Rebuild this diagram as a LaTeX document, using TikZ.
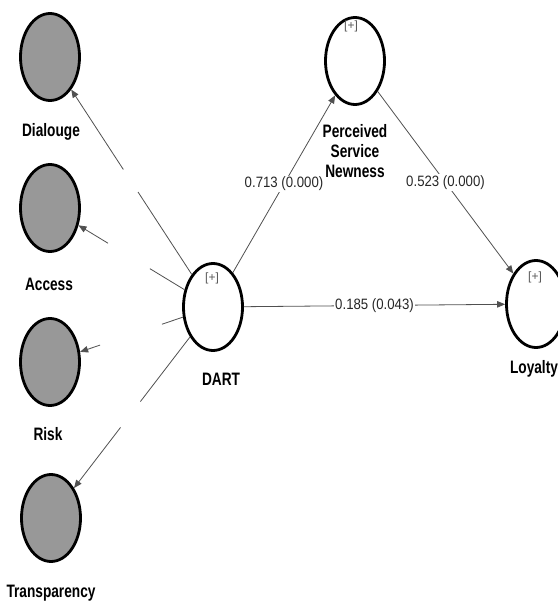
\documentclass[tikz,border=0pt]{standalone}
\usepackage{fontspec}
\setmainfont{Liberation Sans}
\newfontfamily\lblfont[FakeStretch=0.76]{Liberation Sans}
\newfontfamily\numfont[FakeStretch=0.88]{Liberation Sans}
\usetikzlibrary{shapes.geometric,arrows.meta,calc}
\definecolor{indgray}{RGB}{152,152,152}
\definecolor{congray}{RGB}{80,80,80}
\tikzset{
  lv/.style={ellipse, draw=black, fill=white, line width=2.8pt, minimum width=59pt, minimum height=87pt, inner sep=0pt},
  ind/.style={lv, fill=indgray},
  lbl/.style={font=\lblfont\bfseries\fontsize{18}{20}\selectfont, anchor=base, inner sep=0pt},
  plus/.style={font=\fontsize{12}{13}\selectfont, text=black!65, inner sep=0pt},
  con/.style={draw=congray, line width=0.8pt},
  arr/.style={con, -{Triangle[length=8pt,width=6.5pt]}},
  coef/.style={font=\numfont\fontsize{15}{16}\selectfont, fill=white, inner sep=1.5pt, text=black!85}
}
\begin{document}
\begin{tikzpicture}[x=1pt,y=-1pt]
\useasboundingbox (0,0) rectangle (557,601);
% latent variables
\node[lv] (dart) at (213,307) {};
\node[lv] (psn) at (355,61) {};
\node[lv] (loy) at (536,304) {};
\node[plus] (dartplus) at (212,278) {[+]};
\node[plus] (psnplus) at (351,26) {[+]};
\node[plus] (loyplus) at (535,277) {[+]};
\node[lbl] (dartlbl) at (221,385) {DART};
\node[lbl] (psnl1) at (355,138) {Perceived};
\node[lbl] (psnl2) at (355,158) {Service};
\node[lbl] (psnl3) at (355,178) {Newness};
\node[lbl] (loylbl) at (534,373) {Loyalty};
% dimensions
\node[ind] (dia) at (50,57) {};
\node[ind] (acc) at (50,208) {};
\node[ind] (risk) at (50,362) {};
\node[ind] (tra) at (51,518) {};
\node[lbl] (dialbl) at (51,137) {Dialouge};
\node[lbl] (acclbl) at (49,290) {Access};
\node[lbl] (risklbl) at (48,440) {Risk};
\node[lbl] (tralbl) at (51,597) {Transparency};
% gap points
\coordinate (g1a) at ($(dart)!0.46!(dia)$);
\coordinate (g1b) at ($(dart)!0.55!(dia)$);
\coordinate (g2a) at ($(dart)!0.387!(acc)$);
\coordinate (g2b) at ($(dart)!0.644!(acc)$);
\coordinate (g3a) at ($(dart)!0.313!(risk)$);
\coordinate (g3b) at ($(dart)!0.693!(risk)$);
\coordinate (g4a) at ($(dart)!0.448!(tra)$);
\coordinate (g4b) at ($(dart)!0.571!(tra)$);
\draw[con] (dart) -- (g1a);
\draw[arr] (g1b) -- (dia);
\draw[con] (dart) -- (g2a);
\draw[arr] (g2b) -- (acc);
\draw[con] (dart) -- (g3a);
\draw[arr] (g3b) -- (risk);
\draw[con] (dart) -- (g4a);
\draw[arr] (g4b) -- (tra);
% structural paths
\draw[arr] (dart) -- node[coef] (c1) {0.713 (0.000)} (psn);
\draw[arr] (psn) -- node[coef] (c2) {0.523 (0.000)} (loy);
\draw[arr] (dart) -- node[coef] (c3) {0.185 (0.043)} (loy);
\end{tikzpicture}
\end{document}
